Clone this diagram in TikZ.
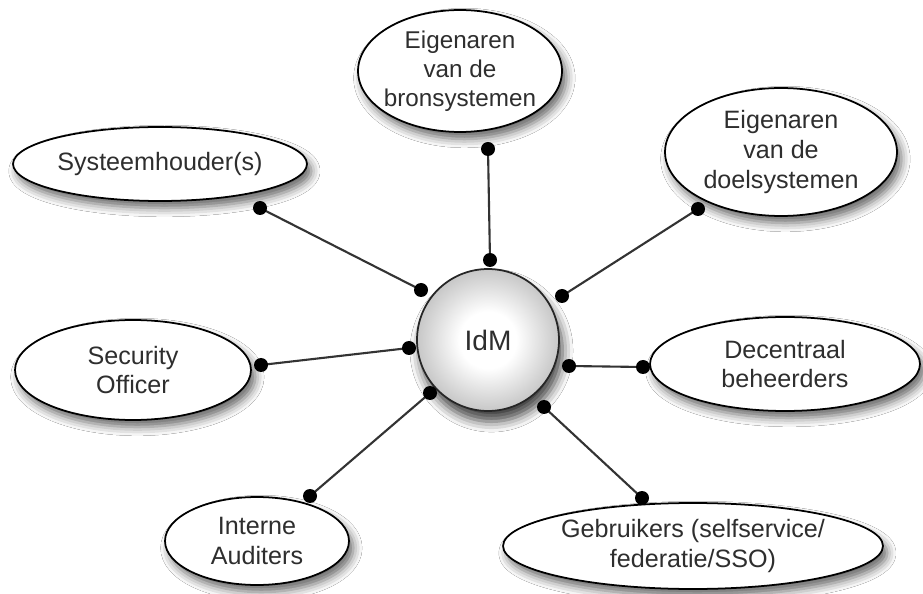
\documentclass[tikz,border=0pt]{standalone}
\usepackage{fontspec}
\setmainfont{Liberation Sans}
\usetikzlibrary{shapes.geometric,shadows.blur}
\definecolor{inkgray}{HTML}{2E2E2E}
% soft white-to-grey fill for the hub
\pgfdeclareradialshading{hubshade}{\pgfpoint{0bp}{0bp}}{%
  color(0bp)=(white); color(10bp)=(white); color(25bp)=(black!22); color(50bp)=(black!22)}
\tikzset{
  role/.style={ellipse, draw=black, line width=1pt, fill=white, inner sep=0pt,
    blur shadow={shadow xshift=2.5pt, shadow yshift=-4pt, shadow blur radius=5pt, shadow opacity=60}},
  roletext/.style={align=center, inner sep=0pt, text=inkgray,
    font=\fontsize{14.3}{17}\selectfont},
  hub/.style={circle, draw=black!85, line width=1pt, inner sep=0pt,
    shading=hubshade, text=inkgray, font=\fontsize{16}{19}\selectfont,
    blur shadow={shadow xshift=2pt, shadow yshift=-6pt, shadow blur radius=6pt, shadow opacity=75}},
  link/.style={line width=1.2pt, draw=black!80},
  pin/.style={fill=black, radius=7}
}
\begin{document}
\begin{tikzpicture}[x=0.02cm, y=-0.02cm]
  \useasboundingbox (0,0) rectangle (923,594);
  \fill[white] (0,0) rectangle (923,594);

  % central system
  \node[hub, minimum size=2.84cm] (idm) at (488,340) {IdM};

  % stakeholder shapes
  \node[role, minimum width=4.08cm, minimum height=2.44cm] (bron) at (460,71) {};
  \node[role, minimum width=4.64cm, minimum height=2.56cm] (doel) at (781,152) {};
  \node[role, minimum width=5.88cm, minimum height=1.48cm] (sys)  at (160,164) {};
  \node[role, minimum width=4.72cm, minimum height=2.0cm]  (sec)  at (133,370) {};
  \node[role, minimum width=5.4cm,  minimum height=1.88cm] (dec)  at (785,364) {};
  \node[role, minimum width=3.68cm, minimum height=1.76cm] (int)  at (257,541) {};
  \node[role, minimum width=7.6cm,  minimum height=1.72cm] (geb)  at (693,546) {};

  % stakeholder names
  \node[roletext, font=\fontsize{13.8}{16.5}\selectfont] (bron-t) at (bron)
    {Eigenaren\\van de\\bronsystemen};
  \node[roletext] (doel-t) at (doel) {Eigenaren\\van de\\doelsystemen};
  \node[roletext] (sys-t)  at (sys)  {Systeemhouder(s)};
  \node[roletext] (sec-t)  at (sec)  {Security\\Officer};
  \node[roletext] (dec-t)  at (dec)  {Decentraal\\beheerders};
  \node[roletext] (int-t)  at (int)  {Interne\\Auditers};
  \node[roletext] (geb-t)  at (geb)  {Gebruikers (selfservice/\\federatie/SSO)};

  % connection points on the hub
  \coordinate (h1) at (421,290);
  \coordinate (h2) at (490,260);
  \coordinate (h3) at (562,296);
  \coordinate (h4) at (409,348);
  \coordinate (h5) at (569,366);
  \coordinate (h6) at (430,393);
  \coordinate (h7) at (544,407);
  % connection points on the stakeholders
  \coordinate (s1) at (260,208);
  \coordinate (s2) at (488,149);
  \coordinate (s3) at (698,209);
  \coordinate (s4) at (261,365);
  \coordinate (s5) at (643,367);
  \coordinate (s6) at (310,496);
  \coordinate (s7) at (642,498);

  \foreach \i in {1,...,7} {
    \draw[link] (h\i) -- (s\i);
    \fill[pin] (h\i) circle;
    \fill[pin] (s\i) circle;
  }
\end{tikzpicture}
\end{document}
